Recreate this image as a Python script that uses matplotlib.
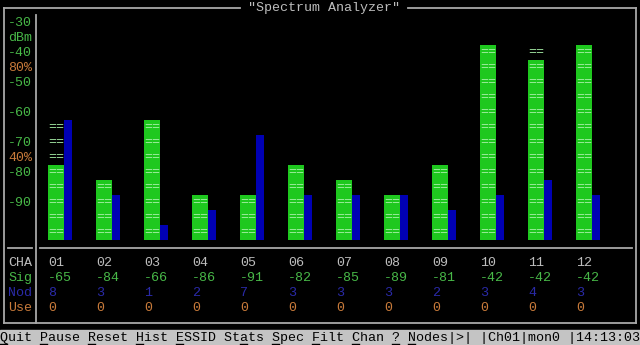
import matplotlib
matplotlib.use('Agg')
import matplotlib.pyplot as plt
from matplotlib.patches import Rectangle

# DATA
channels = ['01', '02', '03', '04', '05', '06', '07', '08', '09', '10', '11', '12']
sig = [-65, -84, -66, -86, -91, -82, -85, -89, -81, -42, -42, -42]        # Sig row
sig_bar = [-80, -85, -65, -90, -90, -80, -85, -90, -80, -40, -45, -40]    # green bar level
sig_peak = [-65, -85, -65, -90, -90, -80, -85, -90, -80, -40, -40, -40]   # "==" max marks
nodes = [8, 3, 1, 2, 7, 3, 3, 3, 2, 3, 4, 3]
use = [0, 0, 0, 0, 0, 0, 0, 0, 0, 0, 0, 0]
y_labels = ['-30', 'dBm', '-40', '80%', '-50', '', '-60', '', '-70', '40%', '-80', '', '-90']
menu = 'Quit Pause Reset Hist ESSID Stats Spec Filt Chan ? Nodes|>| |Ch01|mon0 |14:13:03'
menu_hot = [0, 5, 11, 17, 22, 30, 34, 39, 44, 49, 51]

# terminal look
COLS, ROWS = 80, 23
FONT = 'Liberation Mono'
FS = 9.6
BG = 'black'
GREY = '#bdbdbd'
LINE = '#a8a8a8'
GREEN = '#48b848'
ORANGE = '#c87a3a'
NAVY = '#2a2aa8'
BAR_G = '#1ec81e'
BAR_B = '#0000b4'
MARK = '#a8f0a8'

fig = plt.figure(figsize=(6.4, 3.45), dpi=100, facecolor=BG)

# background axes in character cells
bg = fig.add_axes([0, 0, 1, 1])
bg.set_xlim(0, COLS)
bg.set_ylim(ROWS, 0)
bg.axis('off')
bg.set_facecolor(BG)


def put(col, row, s, color=GREY, ax=bg):
    ax.text(col, row + 0.55, s, color=color, family=FONT, fontsize=FS,
            ha='left', va='center')


# frame
lw = 1.3
bg.plot([0.5, 0.5], [0.5, 21.5], color=LINE, lw=lw)
bg.plot([79.5, 79.5], [0.5, 21.5], color=LINE, lw=lw)
bg.plot([0.5, 79.5], [21.5, 21.5], color=LINE, lw=lw)
bg.plot([0.5, 30], [0.5, 0.5], color=LINE, lw=lw)
bg.plot([51, 79.5], [0.5, 0.5], color=LINE, lw=lw)
put(31, 0, '"Spectrum Analyzer"')
bg.plot([4.5, 4.5], [1, 21.5], color=LINE, lw=lw)
bg.plot([1, 4], [16.5, 16.5], color=LINE, lw=lw)
bg.plot([5, 79], [16.5, 16.5], color=LINE, lw=lw)

# y labels
for i, lab in enumerate(y_labels):
    put(1, 1 + i, lab, ORANGE if lab.endswith('%') else GREEN)

# table below the bars
put(1, 17, 'CHA', GREY)
put(1, 18, 'Sig', GREEN)
put(1, 19, 'Nod', NAVY)
put(1, 20, 'Use', ORANGE)
for i, ch in enumerate(channels):
    c = 6 * (i + 1)
    put(c, 17, ch, GREY)
    put(c, 18, str(sig[i]), GREEN)
    put(c, 19, str(nodes[i]), NAVY)
    put(c, 20, str(use[i]), ORANGE)

# menu bar
bg.add_patch(Rectangle((0, 22), COLS, 1, color='#c4c4c4', zorder=0))
put(0, 22, menu, 'black')
for k in menu_hot:
    bg.plot([k + 0.05, k + 0.9], [22.93, 22.93], color='black', lw=1)

# spectrum bars: y in dBm, 5 dB per text row
ax = fig.add_axes([0, 105 / 345, 1, 225 / 345])
ax.set_xlim(0, COLS)
ax.set_ylim(-105, -30)
ax.axis('off')
ax.patch.set_alpha(0)

xg = [6 * (i + 1) for i in range(len(channels))]
ax.bar(xg, [v + 105 for v in sig_bar], bottom=-105, width=2, align='edge',
       color=BAR_G, zorder=2)
for x, top, peak in zip(xg, sig_bar, sig_peak):
    lvl = top - 2.5
    while lvl > -105:
        ax.text(x + 1, lvl, '==', color=MARK, family=FONT, fontsize=FS,
                ha='center', va='center', zorder=3)
        lvl -= 5
    lvl = peak - 2.5
    while lvl > top:
        ax.text(x + 1, lvl, '==', color=MARK, family=FONT, fontsize=FS,
                ha='center', va='center', zorder=3)
        lvl -= 5

ax2 = ax.twinx()
ax2.set_ylim(0, 15)
ax2.axis('off')
ax2.bar([x + 2 for x in xg], nodes, width=1, align='edge', color=BAR_B)

fig.savefig('out.png', dpi=100, facecolor=BG)
